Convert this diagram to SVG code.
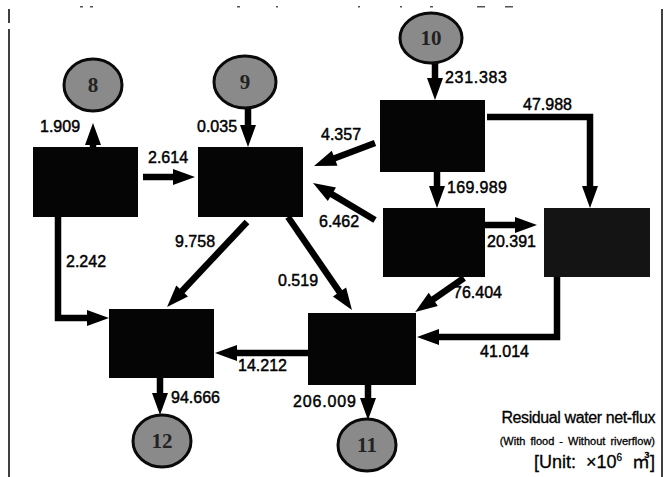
<svg xmlns="http://www.w3.org/2000/svg" width="667" height="477" viewBox="0 0 667 477">
<style>
.box{fill:#050505;}
.circ{fill:#8a8a8a;stroke:#0a0a0a;stroke-width:3;}
.cl{font-family:"Liberation Serif",serif;font-weight:bold;font-size:21px;fill:#222;text-anchor:middle;}
.lab{font-family:"Liberation Sans",Arial,sans-serif;font-size:16px;fill:#000;stroke:#000;stroke-width:0.45;}
.leg{font-family:"Liberation Sans",Arial,"Noto Sans CJK KR",sans-serif;fill:#000;stroke:#000;stroke-width:0.3;text-anchor:end;}
.leg1{font-size:16px;letter-spacing:-0.4px;}
.leg2{font-size:11px;word-spacing:2px;}
.leg3{font-size:18px;word-spacing:5px;}
.sup{font-size:10px;}
.ar{fill:none;stroke:#000;stroke-width:6.5;stroke-linejoin:miter;marker-end:url(#ah);}
.border{stroke:#000;stroke-width:1.5;}
</style>
<defs>
<marker id="ah" markerUnits="userSpaceOnUse" markerWidth="24" markerHeight="18" refX="12" refY="8" orient="auto" overflow="visible">
<path d="M0,0 L22,8 L0,16 z" fill="#000"/>
</marker>
</defs>
<rect width="667" height="477" fill="#fff"/>
<g id="frame">
<line class="border" x1="9" y1="9" x2="9" y2="23"/>
<line class="border" x1="9" y1="29" x2="9" y2="477"/>
<line class="border" x1="662" y1="9" x2="662" y2="477"/>
<rect x="80" y="6" width="3" height="1.5" fill="#555"/>
<rect x="90" y="6" width="3" height="1.5" fill="#555"/>
<rect x="237" y="6" width="3" height="1.5" fill="#555"/>
<rect x="276" y="6" width="2" height="1.5" fill="#555"/>
<rect x="358" y="6" width="2" height="1.5" fill="#555"/>
<rect x="400" y="6" width="2" height="1.5" fill="#555"/>
<rect x="430" y="6" width="3" height="1.5" fill="#555"/>
<rect x="477" y="6" width="8" height="1.5" fill="#555"/>
<rect x="505" y="6" width="8" height="1.5" fill="#555"/>
</g>
<g id="connectors">
<line class="ar" x1="93" y1="147" x2="93" y2="133"/>
<line class="ar" x1="248" y1="108" x2="248" y2="137"/>
<line class="ar" x1="143" y1="177" x2="185" y2="177"/>
<line class="ar" x1="435" y1="63" x2="435" y2="90"/>
<line class="ar" x1="437" y1="172" x2="437" y2="198"/>
<polyline class="ar" points="487,117 590,117 590,198"/>
<line class="ar" x1="375" y1="143" x2="323.4" y2="162.5"/>
<line class="ar" x1="375" y1="220" x2="321.6" y2="188.1"/>
<line class="ar" x1="247" y1="222" x2="173.9" y2="299.7"/>
<line class="ar" x1="288" y1="217" x2="346.3" y2="301.8"/>
<polyline class="ar" points="58,217 58,318 99,318"/>
<line class="ar" x1="485" y1="225" x2="527" y2="225"/>
<line class="ar" x1="464" y1="278" x2="423.4" y2="306.2"/>
<polyline class="ar" points="557,277 557,337 427,337"/>
<line class="ar" x1="308" y1="353" x2="225" y2="353"/>
<line class="ar" x1="160" y1="378" x2="160" y2="405"/>
<line class="ar" x1="368" y1="385" x2="368" y2="410"/>
</g>
<g id="boxA"><rect class="box" x="33" y="147" width="105" height="70"/></g>
<g id="boxB"><rect class="box" x="198" y="147" width="105" height="70"/></g>
<g id="boxC"><rect class="box" x="380" y="100" width="105" height="72"/></g>
<g id="boxD"><rect class="box" x="383" y="208" width="102" height="69"/></g>
<g id="boxE"><rect class="box" x="544" y="208" width="106" height="69" style="fill:#141414"/></g>
<g id="boxF"><rect class="box" x="109" y="309" width="105" height="69"/></g>
<g id="boxG"><rect class="box" x="308" y="313" width="108" height="72"/></g>
<g id="c8"><ellipse class="circ" cx="93" cy="85" rx="29" ry="26"/><text class="cl" x="93" y="92">8</text></g>
<g id="c9"><ellipse class="circ" cx="245" cy="82" rx="31" ry="26"/><text class="cl" x="245" y="89">9</text></g>
<g id="c10"><ellipse class="circ" cx="431" cy="38" rx="31" ry="25"/><text class="cl" x="431" y="45">10</text></g>
<g id="c12"><ellipse class="circ" cx="162" cy="441" rx="29" ry="26"/><text class="cl" x="162" y="448">12</text></g>
<g id="c11"><ellipse class="circ" cx="367" cy="445" rx="29" ry="26"/><text class="cl" x="367" y="452">11</text></g>
<g id="labels">
<text class="lab" x="40" y="132">1.909</text>
<text class="lab" x="197" y="132">0.035</text>
<text class="lab" x="148" y="163">2.614</text>
<text class="lab" x="445" y="83" textLength="62">231.383</text>
<text class="lab" x="523" y="110">47.988</text>
<text class="lab" x="321" y="140">4.357</text>
<text class="lab" x="447" y="193" textLength="60">169.989</text>
<text class="lab" x="319" y="227">6.462</text>
<text class="lab" x="487" y="247">20.391</text>
<text class="lab" x="175" y="247">9.758</text>
<text class="lab" x="66" y="267">2.242</text>
<text class="lab" x="278" y="286">0.519</text>
<text class="lab" x="453" y="298">76.404</text>
<text class="lab" x="480" y="357">41.014</text>
<text class="lab" x="238" y="371">14.212</text>
<text class="lab" x="171" y="403">94.666</text>
<text class="lab" x="293" y="407" textLength="63">206.009</text>
</g>
<g id="legend">
<text class="leg leg1" x="655" y="423">Residual water net-flux</text>
<text class="leg leg2" x="655" y="445">(With flood - Without riverflow)</text>
<text class="leg leg3" x="655" y="468">[Unit: ×10<tspan class="sup" dy="-7">6</tspan><tspan dy="7"> ㎥]</tspan></text>
</g>
</svg>
